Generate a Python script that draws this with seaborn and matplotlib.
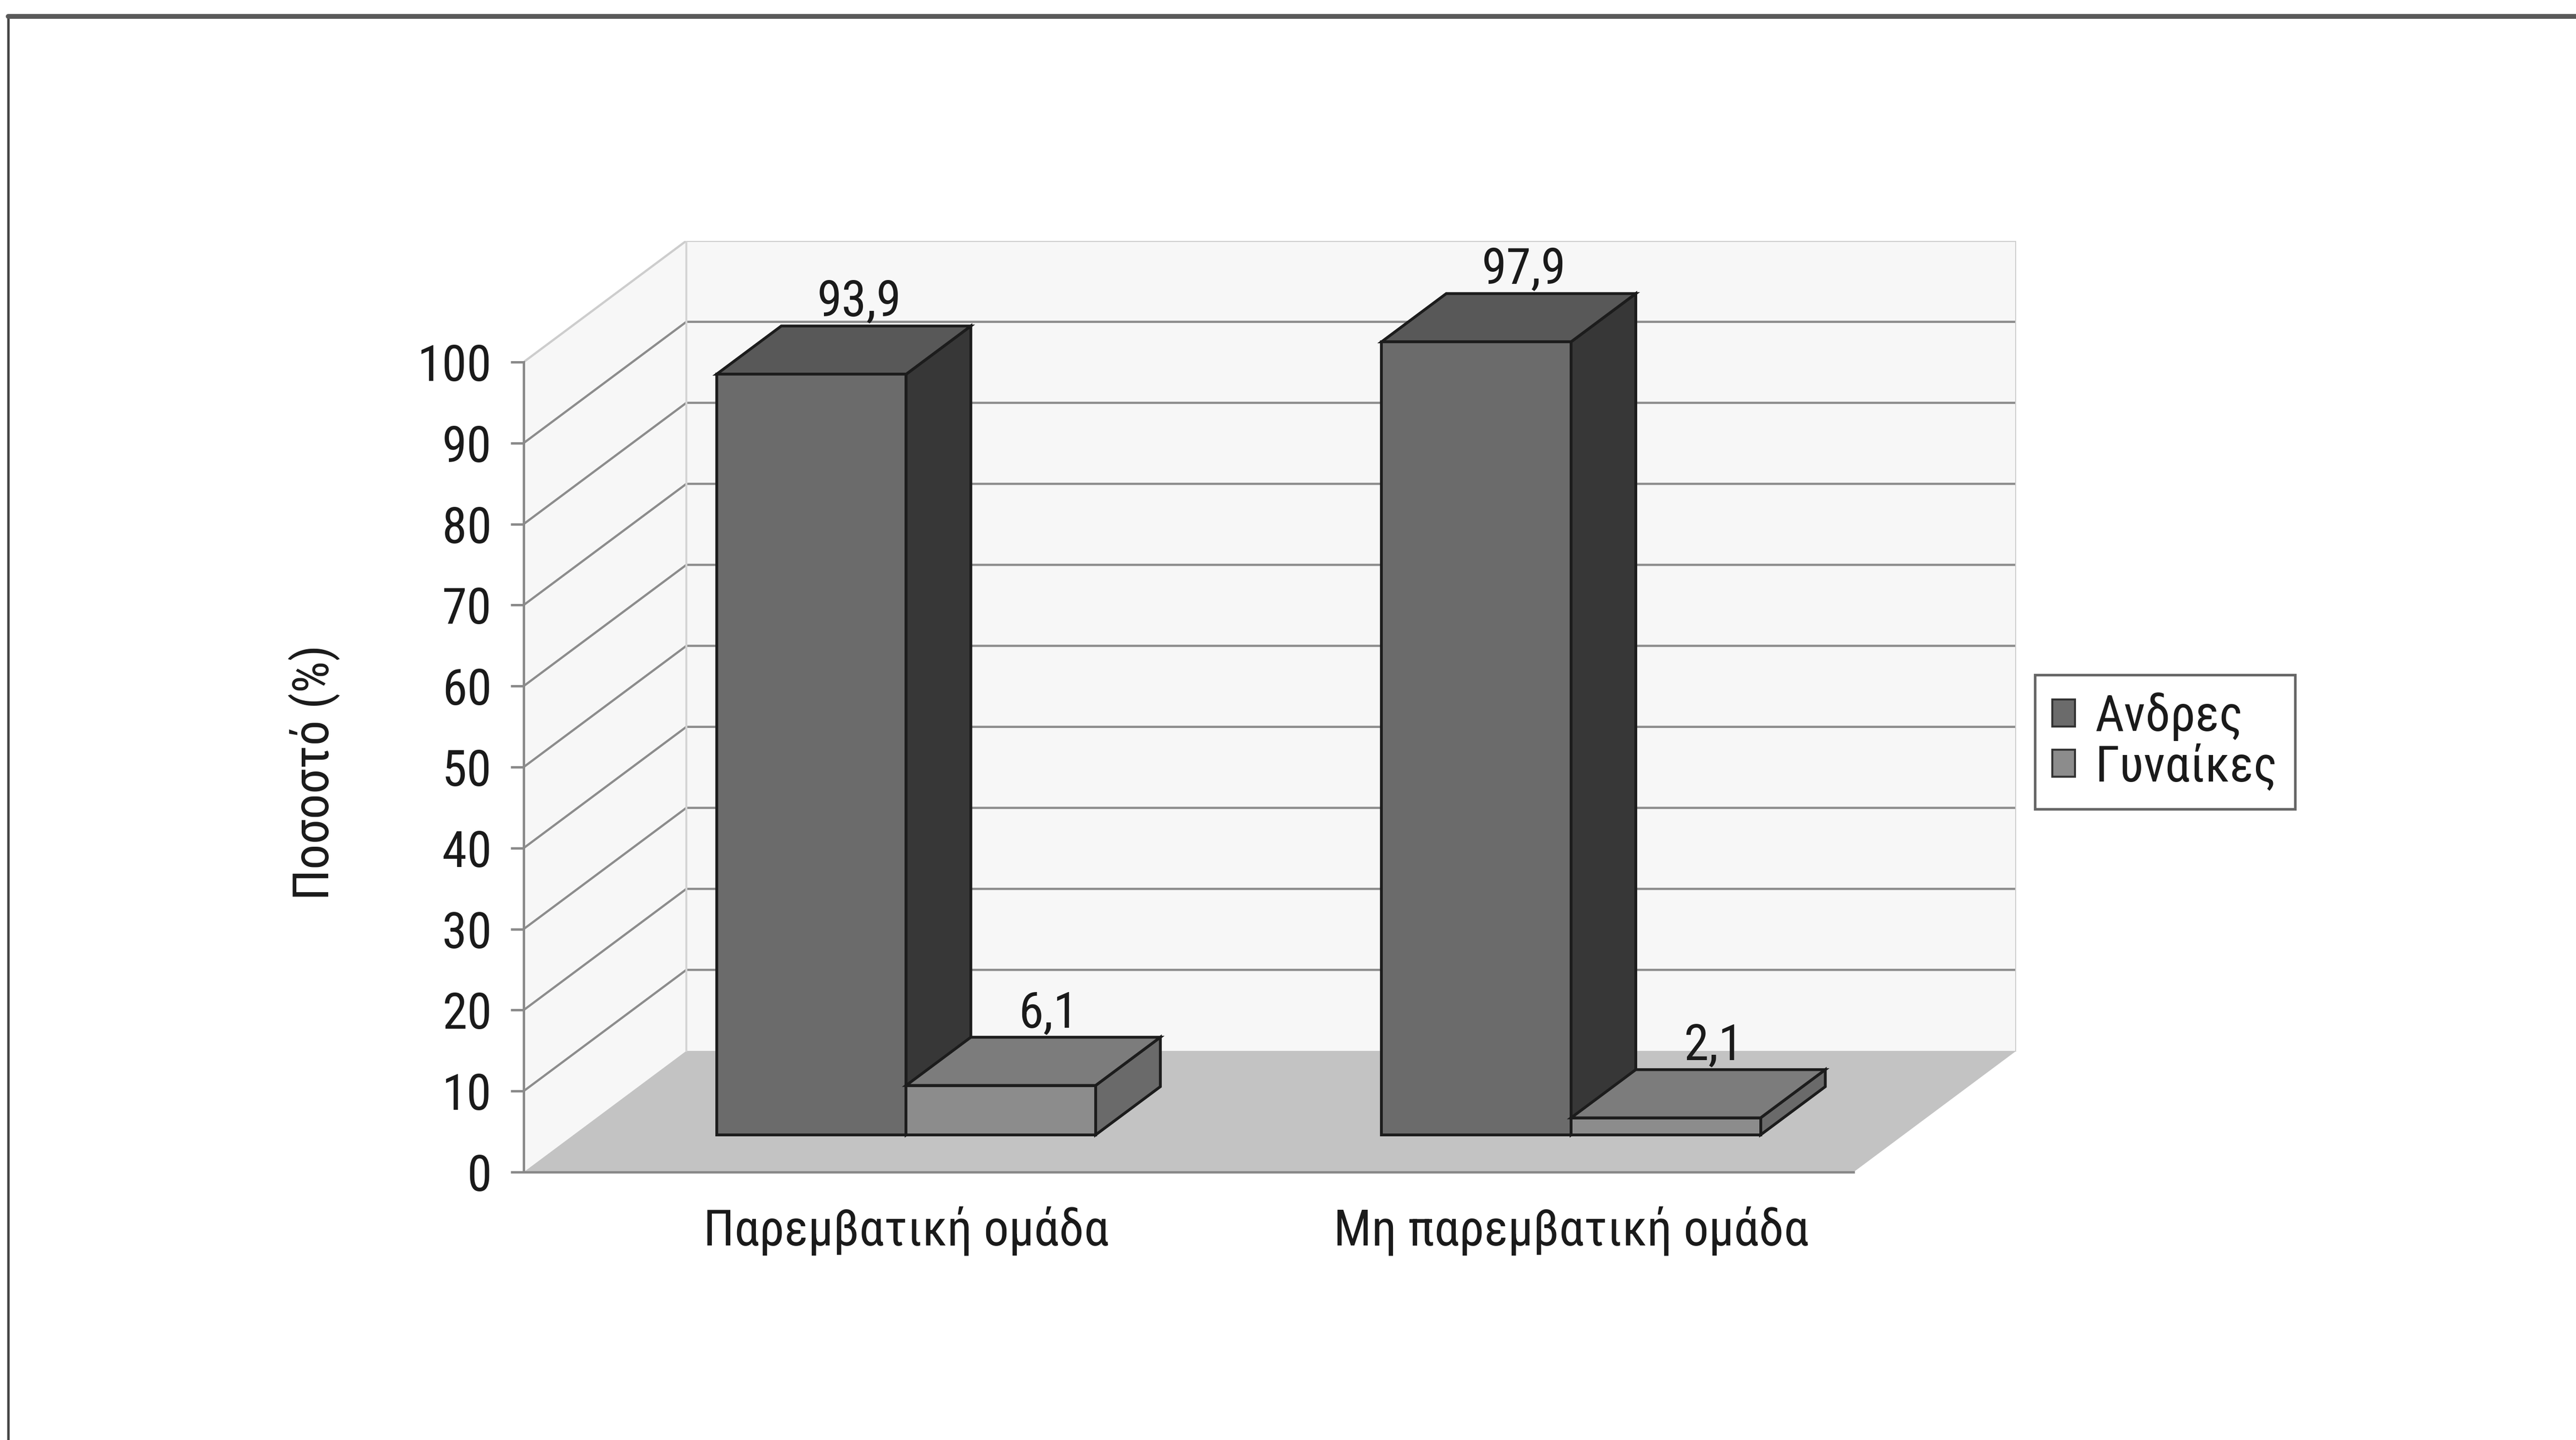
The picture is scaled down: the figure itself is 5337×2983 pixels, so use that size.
import matplotlib
matplotlib.use("Agg")
import numpy as np
import pandas as pd
import seaborn as sns
import matplotlib.pyplot as plt
from matplotlib import font_manager as fm
from matplotlib.patches import Polygon, Patch
from matplotlib.lines import Line2D
from matplotlib.transforms import Affine2D

# ---- data -------------------------------------------------------------
groups = ["Παρεμβατική ομάδα", "Μη παρεμβατική ομάδα"]
series = ["Ανδρες", "Γυναίκες"]
men = [93.9, 97.9]
women = [6.1, 2.1]
y_ticks = list(range(0, 101, 10))
y_label = "Ποσοστό (%)"

df = pd.DataFrame({
    "group": groups * 2,
    "sex": [series[0]] * len(groups) + [series[1]] * len(groups),
    "pct": men + women,
})

# ---- fonts: prefer a narrow sans ---------------------------------------
_entries = fm.fontManager.ttflist
_names = {f.name for f in _entries}
FONT, STRETCH = "DejaVu Sans", "normal"
for cand in ["Liberation Sans Narrow", "Roboto Condensed", "Open Sans Condensed"]:
    if cand in _names:
        FONT = cand
        break
else:
    if any(f.name == "Noto Sans" and "condensed" in str(f.stretch) for f in _entries):
        FONT, STRETCH = "Noto Sans", "condensed"
    elif "Liberation Sans" in _names:
        FONT = "Liberation Sans"

sns.set_style("white")
plt.rcParams["font.family"] = [FONT, "DejaVu Sans"]
plt.rcParams["font.stretch"] = STRETCH
FS = 25

W, H, DPI = 5337, 2983, 300
fig = plt.figure(figsize=(W / DPI, H / DPI), dpi=DPI)
fig.patch.set_facecolor("white")
ax = fig.add_axes([0.2033, 0.18606, 0.5794, 0.6467])
ax.set_facecolor("none")

# oblique projection of the depth axis (data units)
DX, DY = 0.2446, 14.96
F0, F1 = 0.307, 0.705          # front / back of the bars along depth

front_colors = ["#6b6b6b", "#8c8c8c"]
top_colors = ["#585858", "#7c7c7c"]
side_colors = ["#373737", "#6a6a6a"]
EDGE = "#1c1c1c"

x0, x1 = -0.5, len(groups) - 0.5
ytop = y_ticks[-1]

# walls and floor
ax.add_patch(Polygon([(x0, 0), (x1, 0), (x1 + DX, DY), (x0 + DX, DY)],
                     closed=True, fc="#c3c3c3", ec="none", zorder=0.5))
ax.add_patch(Polygon([(x0 + DX, DY), (x1 + DX, DY), (x1 + DX, ytop + DY), (x0 + DX, ytop + DY)],
                     closed=True, fc="#f7f7f7", ec="none", zorder=0.4))
ax.add_patch(Polygon([(x0, 0), (x0 + DX, DY), (x0 + DX, ytop + DY), (x0, ytop)],
                     closed=True, fc="#f7f7f7", ec="none", zorder=0.4))

# gridlines on the side and back walls
for v in y_ticks[1:-1]:
    ax.plot([x0, x0 + DX, x1 + DX], [v, v + DY, v + DY], color="#8c8c8c", lw=1.1,
            zorder=1, solid_capstyle="butt")
ax.plot([x0, x0 + DX, x1 + DX, x1 + DX], [ytop, ytop + DY, ytop + DY, DY],
        color="#cdcdcd", lw=1.1, zorder=1)
ax.plot([x0 + DX, x0 + DX], [DY, ytop + DY], color="#d4d4d4", lw=1.0, zorder=1)

# bars (front faces)
sns.barplot(data=df, x="group", y="pct", hue="sex", order=groups, hue_order=series,
            palette=front_colors, width=0.57, saturation=1, edgecolor=EDGE,
            linewidth=1.4, legend=False, ax=ax)

shift = Affine2D().translate(F0 * DX, F0 * DY) + ax.transData
for i, cont in enumerate(ax.containers):
    for p in cont.patches:
        x, w, h = p.get_x(), p.get_width(), p.get_height()
        p.set_transform(shift)
        p.set_zorder(4 + 2 * i)
        a0x, a0y = F0 * DX, F0 * DY
        a1x, a1y = F1 * DX, F1 * DY
        top = [(x + a0x, h + a0y), (x + w + a0x, h + a0y),
               (x + w + a1x, h + a1y), (x + a1x, h + a1y)]
        side = [(x + w + a0x, a0y), (x + w + a1x, a1y),
                (x + w + a1x, h + a1y), (x + w + a0x, h + a0y)]
        ax.add_patch(Polygon(side, closed=True, fc=side_colors[i], ec=EDGE, lw=1.4,
                             joinstyle="miter", zorder=3 + 2 * i))
        ax.add_patch(Polygon(top, closed=True, fc=top_colors[i], ec=EDGE, lw=1.4,
                             joinstyle="miter", zorder=3 + 2 * i))
        ax.text(x + w / 2 + 0.6 * DX, h + a1y, f"{h:.1f}".replace(".", ","),
                ha="center", va="bottom", fontsize=FS, color="#1a1a1a", zorder=20)

# axes decoration
ax.set_xlim(x0, x1 + DX)
ax.set_ylim(0, ytop + DY)
ax.set_yticks(y_ticks)
ax.set_yticklabels([str(t) for t in y_ticks])
ax.set_xticks([i + F0 * DX for i in range(len(groups))])
ax.set_xticklabels(groups)
ax.set_xticks(np.arange(len(groups) + 1) - 0.5, minor=True)
ax.tick_params(axis="x", which="major", length=0, pad=17, labelsize=FS, labelcolor="#1a1a1a")
ax.tick_params(axis="x", which="minor", length=6.5, width=1.2, color="#8a8a8a", direction="out")
ax.tick_params(axis="y", which="major", length=6.5, width=1.2, color="#8a8a8a",
               direction="out", pad=9.4, labelsize=FS, labelcolor="#1a1a1a", left=True)
ax.spines[["top", "right"]].set_visible(False)
ax.spines["left"].set_bounds(0, ytop)
ax.spines["bottom"].set_bounds(x0, x1)
for s in ("left", "bottom"):
    ax.spines[s].set_color("#8a8a8a")
    ax.spines[s].set_linewidth(1.2)
ax.set_xlabel("")
ax.set_ylabel(y_label, fontsize=FS, color="#1a1a1a")
ax.yaxis.set_label_coords(-0.1229, 0.4292)
ax.grid(False)

# legend
handles = [Patch(facecolor=c, edgecolor="#333333", linewidth=1.0, label=s)
           for c, s in zip(front_colors, series)]
leg = fig.legend(handles=handles, loc="center", bbox_to_anchor=(0.8404, 0.4847),
                 frameon=True, fancybox=False, edgecolor="#404040", fontsize=FS,
                 handlelength=0.45, handleheight=0.45, handletextpad=0.4,
                 borderpad=0.35, labelspacing=0.05, borderaxespad=0)
leg.get_frame().set_linewidth(1.3)
for t in leg.get_texts():
    t.set_color("#1a1a1a")

# page frame
fig.add_artist(Line2D([17 / W, 17 / W], [0, 1 - 34 / H], transform=fig.transFigure,
                      color="#454545", lw=1.2))
fig.add_artist(Line2D([17 / W, 1], [1 - 34 / H, 1 - 34 / H], transform=fig.transFigure,
                      color="#5a5a5a", lw=2.4))

fig.savefig("out.png", dpi=DPI)
